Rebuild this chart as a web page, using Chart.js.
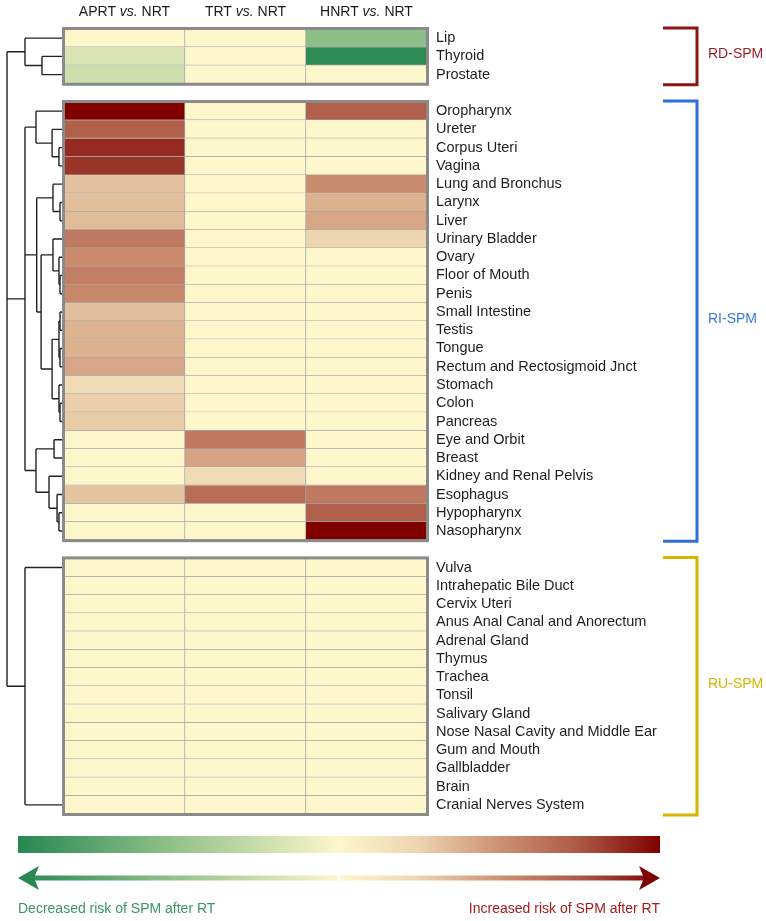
<!DOCTYPE html>
<html>
<head>
<meta charset="utf-8">
<script src="https://cdn.jsdelivr.net/npm/chart.js@4/dist/chart.umd.min.js"></script>
<style>
  body { margin: 0; background: #fff; }
  canvas { display: block; }
</style>
</head>
<body>
<canvas id="heatmap" width="766" height="921"></canvas>
<script>
'use strict';

// Data
const comparisons = [['APRT', 'NRT'], ['TRT', 'NRT'], ['HNRT', 'NRT']];
const groupNames = ['RD-SPM', 'RI-SPM', 'RU-SPM'];
const groupSizes = [3, 24, 14];

const tumors = [
    'Lip', 'Thyroid', 'Prostate',
    'Oropharynx', 'Ureter', 'Corpus Uteri', 'Vagina', 'Lung and Bronchus', 'Larynx', 'Liver',
    'Urinary Bladder', 'Ovary', 'Floor of Mouth', 'Penis', 'Small Intestine', 'Testis', 'Tongue',
    'Rectum and Rectosigmoid Jnct', 'Stomach', 'Colon', 'Pancreas', 'Eye and Orbit', 'Breast',
    'Kidney and Renal Pelvis', 'Esophagus', 'Hypopharynx', 'Nasopharynx',
    'Vulva', 'Intrahepatic Bile Duct', 'Cervix Uteri', 'Anus Anal Canal and Anorectum', 'Adrenal Gland',
    'Thymus', 'Trachea', 'Tonsil', 'Salivary Gland', 'Nose Nasal Cavity and Middle Ear', 'Gum and Mouth',
    'Gallbladder', 'Brain', 'Cranial Nerves System'
];

// -1 = strongly decreased risk (green), 0 = no change, 1 = strongly increased risk (dark red)
const aprtVsNrt = [
    0, -0.18, -0.23,
    1.0, 0.72, 0.88, 0.85, 0.32, 0.33, 0.34, 0.6, 0.53, 0.58, 0.54, 0.33, 0.37, 0.38, 0.42,
    0.2, 0.27, 0.28, 0, 0, 0, 0.31, 0, 0,
    0, 0, 0, 0, 0, 0, 0, 0, 0, 0, 0, 0, 0, 0
];
const trtVsNrt = [
    0, 0, 0,
    0, 0, 0, 0, 0, 0, 0, 0, 0, 0, 0, 0, 0, 0, 0,
    0, 0, 0, 0.6, 0.43, 0.2, 0.66, 0, 0,
    0, 0, 0, 0, 0, 0, 0, 0, 0, 0, 0, 0, 0, 0
];
const hnrtVsNrt = [
    -0.53, -0.97, 0,
    0.72, 0, 0, 0, 0.52, 0.38, 0.42, 0.24, 0, 0, 0, 0, 0, 0, 0,
    0, 0, 0, 0, 0, 0, 0.6, 0.72, 1.0,
    0, 0, 0, 0, 0, 0, 0, 0, 0, 0, 0, 0, 0, 0
];

// cluster tree: leaves are tumor names, h = merge height (0 leaves .. 1 root)
const dendrogram = { h: 1, children: [
    { h: 0.673, children: ['Lip', { h: 0.364, children: ['Thyroid', 'Prostate'] }] },
    { h: 0.673, children: [
        { h: 0.473, children: ['Oropharynx', { h: 0.18, children: ['Ureter', { h: 0.055, children: ['Corpus Uteri', 'Vagina'] }] }] },
        { h: 0.46, children: [
            { h: 0.164, children: ['Lung and Bronchus', { h: 0.036, children: ['Larynx', 'Liver'] }] },
            { h: 0.38, children: [
                { h: 0.164, children: ['Urinary Bladder', { h: 0.055, children: ['Ovary', { h: 0.036, children: ['Floor of Mouth', 'Penis'] }] }] },
                { h: 0.18, children: [
                    { h: 0.055, children: [
                        { h: 0.036, children: ['Small Intestine', 'Testis'] },
                        { h: 0.036, children: ['Tongue', 'Rectum and Rectosigmoid Jnct'] }
                    ] },
                    { h: 0.055, children: ['Stomach', { h: 0.036, children: ['Colon', 'Pancreas'] }] }
                ] }
            ] }
        ] },
        { h: 0.473, children: [
            { h: 0.145, children: ['Eye and Orbit', 'Breast'] },
            { h: 0.236, children: ['Kidney and Renal Pelvis', { h: 0.09, children: ['Esophagus', { h: 0.055, children: ['Hypopharynx', 'Nasopharynx'] }] }] }
        ] }
    ] },
    { h: 0.673, children: ['Vulva', 'Cranial Nerves System'] }
] };

// Styles
const FONT = '"Liberation Sans", Arial, Helvetica, sans-serif';
const heatStops = [
    [-1, [38, 135, 82]], [-0.5, [150, 195, 140]], [0, [253, 247, 203]],
    [0.25, [236, 212, 175]], [0.5, [205, 145, 115]], [0.75, [172, 88, 70]], [1, [128, 0, 0]]
];
const groupColors = ['#8b1515', '#2f6fd8', '#d8b400'];
const groupTextColors = ['#9a1c1c', '#3a78dc', '#d6b300'];

function heatColor(v) {
    for (let i = 1; i < heatStops.length; i++) {
        const [v0, c0] = heatStops[i - 1];
        const [v1, c1] = heatStops[i];
        if (v <= v1) {
            const t = (v - v0) / (v1 - v0);
            const c = c0.map((a, k) => Math.round(a + (c1[k] - a) * t));
            return `rgb(${c[0]},${c[1]},${c[2]})`;
        }
    }
    return 'rgb(128,0,0)';
}

// Rows of the heatmap, with an empty row between groups
const rowLabels = [];
const rowIndex = [];
const groupRanges = [];
let start = 0;
groupSizes.forEach(function(size, g) {
    if (g > 0) { rowLabels.push(''); rowIndex.push(null); }
    groupRanges.push([rowLabels.length, rowLabels.length + size - 1]);
    for (let i = start; i < start + size; i++) {
        rowLabels.push(tumors[i]);
        rowIndex.push(i);
    }
    start += size;
});

const columnValues = [aprtVsNrt, trtVsNrt, hnrtVsNrt];
const datasets = columnValues.map(function(values, c) {
    return {
        label: comparisons[c].join(' vs. '),
        data: rowIndex.map(i => i === null ? null : 1),
        backgroundColor: rowIndex.map(i => i === null ? 'rgba(0,0,0,0)' : heatColor(values[i])),
        borderColor: '#a6a6a6',
        borderWidth: { top: 0, left: 0, right: 1, bottom: 1 },
        borderSkipped: false,
        barPercentage: 1,
        categoryPercentage: 1
    };
});

const decorations = {
    id: 'decorations',
    afterDatasetsDraw(chart) {
        const ctx = chart.ctx;
        const area = chart.chartArea;
        const x = chart.scales.x;
        const y = chart.scales.y;
        const half = (y.getPixelForValue(1) - y.getPixelForValue(0)) / 2;

        ctx.save();

        // group frames
        ctx.strokeStyle = '#8a8a8a';
        ctx.lineWidth = 3;
        groupRanges.forEach(function([a, b]) {
            const top = y.getPixelForValue(a) - half;
            const bottom = y.getPixelForValue(b) + half;
            ctx.strokeRect(area.left - 0.5, top - 0.5, area.right - area.left + 1, bottom - top + 1);
        });

        // column headers
        ctx.fillStyle = '#1a1a1a';
        ctx.textBaseline = 'middle';
        comparisons.forEach(function([lhs, rhs], c) {
            const cx = x.getPixelForValue(c + 0.5);
            const parts = [[lhs + ' ', 'normal'], ['vs.', 'italic'], [' ' + rhs, 'normal']];
            let total = 0;
            parts.forEach(function(p) {
                ctx.font = `${p[1]} 14px ${FONT}`;
                total += ctx.measureText(p[0]).width;
            });
            let px = cx - total / 2;
            ctx.textAlign = 'left';
            parts.forEach(function(p) {
                ctx.font = `${p[1]} 14px ${FONT}`;
                ctx.fillText(p[0], px, 12);
                px += ctx.measureText(p[0]).width;
            });
        });

        // dendrogram
        const leafX = area.left - 2;
        const spread = leafX - 7;
        ctx.strokeStyle = '#222';
        ctx.lineWidth = 1.4;
        function drawNode(node) {
            if (typeof node === 'string') {
                return { x: leafX, y: y.getPixelForValue(rowLabels.indexOf(node)) };
            }
            const nx = leafX - node.h * spread;
            const kids = node.children.map(drawNode);
            const ys = kids.map(k => k.y);
            const y0 = Math.min.apply(null, ys);
            const y1 = Math.max.apply(null, ys);
            ctx.beginPath();
            ctx.moveTo(nx, y0);
            ctx.lineTo(nx, y1);
            kids.forEach(function(k) {
                ctx.moveTo(nx, k.y);
                ctx.lineTo(k.x, k.y);
            });
            ctx.stroke();
            return { x: nx, y: (y0 + y1) / 2 };
        }
        drawNode(dendrogram);

        // group brackets
        ctx.lineWidth = 3;
        ctx.font = `14px ${FONT}`;
        ctx.textAlign = 'left';
        groupRanges.forEach(function([a, b], g) {
            const top = y.getPixelForValue(a) - half - 1;
            const bottom = y.getPixelForValue(b) + half + 1;
            ctx.strokeStyle = groupColors[g];
            ctx.beginPath();
            ctx.moveTo(663, top);
            ctx.lineTo(697, top);
            ctx.lineTo(697, bottom);
            ctx.lineTo(663, bottom);
            ctx.stroke();
            ctx.fillStyle = groupTextColors[g];
            ctx.fillText(groupNames[g], 708, (top + bottom) / 2 - 2);
        });

        // colour bar and arrow
        const barLeft = 18;
        const barRight = 660;
        const grad = ctx.createLinearGradient(barLeft, 0, barRight, 0);
        heatStops.forEach(function([v, c]) {
            grad.addColorStop((v + 1) / 2, `rgb(${c[0]},${c[1]},${c[2]})`);
        });
        ctx.fillStyle = grad;
        ctx.fillRect(barLeft, 836, barRight - barLeft, 17);

        const ay = 878;
        const mid = (barLeft + barRight) / 2;
        ctx.fillRect(barLeft + 14, ay - 2.5, mid - 1.5 - (barLeft + 14), 5);
        ctx.fillRect(mid + 1.5, ay - 2.5, barRight - 14 - (mid + 1.5), 5);
        ctx.fillStyle = heatColor(-1);
        ctx.beginPath();
        ctx.moveTo(barLeft, ay);
        ctx.lineTo(barLeft + 21, ay - 12);
        ctx.lineTo(barLeft + 16, ay);
        ctx.lineTo(barLeft + 21, ay + 12);
        ctx.closePath();
        ctx.fill();
        ctx.fillStyle = heatColor(1);
        ctx.beginPath();
        ctx.moveTo(barRight, ay);
        ctx.lineTo(barRight - 21, ay - 12);
        ctx.lineTo(barRight - 16, ay);
        ctx.lineTo(barRight - 21, ay + 12);
        ctx.closePath();
        ctx.fill();

        ctx.font = `14px ${FONT}`;
        ctx.textBaseline = 'middle';
        ctx.fillStyle = '#3d9464';
        ctx.textAlign = 'left';
        ctx.fillText('Decreased risk of SPM after RT', barLeft, 909);
        ctx.fillStyle = '#a31c1c';
        ctx.textAlign = 'right';
        ctx.fillText('Increased risk of SPM after RT', barRight, 909);

        ctx.restore();
    }
};

new Chart(document.getElementById('heatmap').getContext('2d'), {
    type: 'bar',
    data: { labels: rowLabels, datasets: datasets },
    options: {
        indexAxis: 'y',
        responsive: false,
        animation: false,
        layout: { padding: { left: 64, top: 29, right: 0, bottom: 107 } },
        plugins: {
            legend: { display: false },
            tooltip: { enabled: false }
        },
        scales: {
            x: { type: 'linear', min: 0, max: 3, stacked: true, display: false },
            y: {
                stacked: true,
                position: 'right',
                grid: { display: false, drawTicks: false },
                border: { display: false },
                afterFit: function(scale) { scale.width = 339; },
                ticks: {
                    autoSkip: false,
                    padding: 9,
                    color: '#1e1e1e',
                    font: { family: FONT, size: 14.5 }
                }
            }
        }
    },
    plugins: [decorations]
});
</script>
</body>
</html>
